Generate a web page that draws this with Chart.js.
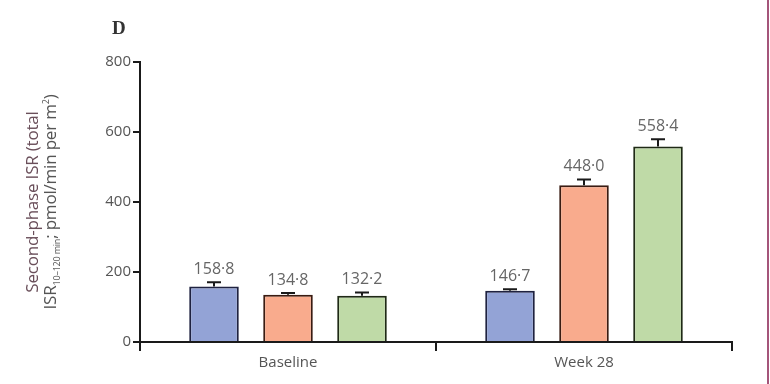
<!DOCTYPE html>
<html>
<head>
<meta charset="utf-8">
<script src="https://cdn.jsdelivr.net/npm/chart.js@4/dist/chart.umd.min.js"></script>
<style>
  html, body { margin: 0; padding: 0; background: #fff; }
  #wrap { position: relative; width: 770px; height: 384px; overflow: hidden; }
  #frame { position: absolute; left: 767px; top: 0; width: 2px; height: 384px; background: #a4557a; }
  #panel { position: absolute; left: 112px; top: 17px; font: bold 19px "Liberation Serif", "DejaVu Serif", serif; color: #333; }
  #ytitle { position: absolute; left: 41px; top: 202px; width: 320px; transform: translate(-50%, -50%) rotate(-90deg);
            text-align: center; font: 17px "Open Sans", sans-serif; letter-spacing: -0.2px; color: #555; line-height: 18px; white-space: nowrap; }
  #ytitle .l1 { color: #6a4f5a; }
  sub { font-size: 9px; line-height: 0; }
  sup { font-size: 9px; line-height: 0; }
</style>
</head>
<body>
<div id="wrap">
  <canvas id="c" width="770" height="384"></canvas>
  <div id="panel">D</div>
  <div id="ytitle"><span class="l1">Second-phase ISR (total</span><br>ISR<sub>10–120 min</sub>; pmol/min per m<sup>2</sup>)</div>
  <div id="frame"></div>
</div>
<script>
// Time points on the x axis
const categories = ['Baseline', 'Week 28'];
// Mean second-phase ISR per treatment group
const groupA = [158.8, 146.7];
const groupB = [134.8, 448.0];
const groupC = [132.2, 558.4];
// Upper error (SEM) per group
const errA = [12, 4];
const errB = [5, 16];
const errC = [9, 21];
// Value labels printed above the bars
const labelsA = ['158·8', '146·7'];
const labelsB = ['134·8', '448·0'];
const labelsC = ['132·2', '558·4'];
const yTicks = [0, 200, 400, 600, 800];

const tickFont = { family: '"Open Sans", sans-serif', size: 15 };

const errorBarPlugin = {
  id: 'errorBars',
  afterDatasetsDraw(chart) {
    const ctx = chart.ctx;
    const y = chart.scales.y;
    chart.data.datasets.forEach((ds, i) => {
      const meta = chart.getDatasetMeta(i);
      meta.data.forEach((bar, j) => {
        const v = ds.data[j];
        const top = y.getPixelForValue(v + ds.err[j]);
        ctx.save();
        ctx.strokeStyle = '#1a1a1a';
        ctx.lineWidth = 2;
        ctx.beginPath();
        ctx.moveTo(bar.x, bar.y);
        ctx.lineTo(bar.x, top);
        ctx.moveTo(bar.x - 7, top);
        ctx.lineTo(bar.x + 7, top);
        ctx.stroke();
        ctx.fillStyle = '#666';
        ctx.font = '16px ' + tickFont.family;
        ctx.textAlign = 'center';
        ctx.textBaseline = 'bottom';
        ctx.fillText(ds.valueLabels[j], bar.x, top - 5);
        ctx.restore();
      });
    });
  }
};

new Chart(document.getElementById('c'), {
  type: 'bar',
  data: {
    labels: categories,
    datasets: [
      { data: groupA, err: errA, valueLabels: labelsA, backgroundColor: '#93a3d6', borderColor: '#1f2240', borderWidth: 2 },
      { data: groupB, err: errB, valueLabels: labelsB, backgroundColor: '#f9ab8d', borderColor: '#3a1c12', borderWidth: 2 },
      { data: groupC, err: errC, valueLabels: labelsC, backgroundColor: '#bfdaa7', borderColor: '#1f2a16', borderWidth: 2 }
    ]
  },
  options: {
    responsive: false,
    animation: false,
    layout: { padding: { top: 62, right: 38, left: 0, bottom: 0 } },
    categoryPercentage: 0.75,
    barPercentage: 0.67,
    plugins: { legend: { display: false }, tooltip: { enabled: false } },
    scales: {
      x: {
        offset: true,
        border: { display: true, color: '#1a1a1a', width: 2 },
        grid: { display: true, offset: true, drawOnChartArea: false, drawTicks: true, tickLength: 9, color: '#1a1a1a', lineWidth: 2 },
        ticks: { color: '#555', font: tickFont, padding: 3 },
        afterFit(scale) { scale.height = 42; }
      },
      y: {
        min: 0, max: 800,
        afterBuildTicks(scale) { scale.ticks = yTicks.map(v => ({ value: v })); },
        border: { display: true, color: '#1a1a1a', width: 2 },
        grid: { display: true, drawOnChartArea: false, drawTicks: true, tickLength: 7, color: '#1a1a1a', lineWidth: 2 },
        ticks: { color: '#555', font: tickFont, padding: 2 },
        afterFit(scale) { scale.width = 140; }
      }
    }
  },
  plugins: [errorBarPlugin]
});
</script>
</body>
</html>
